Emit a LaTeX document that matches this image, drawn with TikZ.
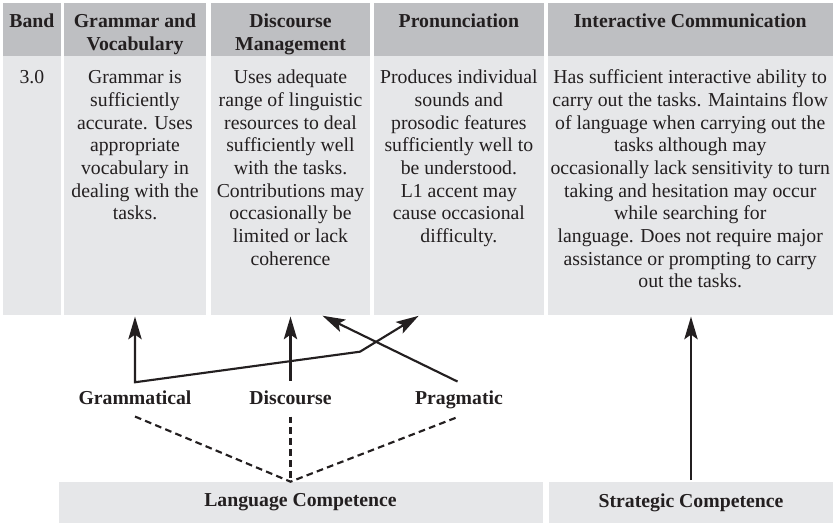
\documentclass[tikz,border=0pt]{standalone}
\usepackage{fontspec}
\setmainfont{Liberation Serif}
\usetikzlibrary{fit,calc,arrows.meta}
\definecolor{headgray}{RGB}{190,191,194}
\definecolor{cellgray}{RGB}{230,231,233}
\definecolor{ink}{RGB}{35,31,32}
\newcommand\diafont{\fontsize{14.8}{17}\selectfont}

\begin{document}
\begin{tikzpicture}[x=0.75pt,y=-0.75pt,>={Stealth[length=17pt,width=10pt,inset=3.5pt]},
  font=\diafont, color=ink, line width=1.6pt,
  head/.style={fill=headgray,inner sep=0,outer sep=0},
  cell/.style={fill=cellgray,inner sep=0,outer sep=0},
  htext/.style={anchor=north,inner sep=0,align=center,font=\diafont\bfseries},
  ctext/.style={anchor=north,inner sep=0,align=center},
  btext/.style={inner sep=0,font=\diafont\bfseries},
  lbl/.style={anchor=base,font=\diafont\bfseries,text height=10.2pt,text depth=3.3pt,inner sep=5.3pt},
  dashline/.style={dash pattern=on 5pt off 3.2pt},
  tip/.style={shorten >=1.2pt,shorten <=1.2pt}]
  \useasboundingbox (0,0) rectangle (833,524);
  % table: header row
  \node[head,fit={(2.7,3)(61,56.5)}](bandh){};
  \node[head,fit={(64,3)(206,56.5)}](gvh){};
  \node[head,fit={(211,3)(370,56.5)}](dmh){};
  \node[head,fit={(374,3)(543.7,56.5)}](prh){};
  \node[head,fit={(547.5,3)(833,56.5)}](ich){};
  % table: body row
  \node[cell,fit={(2.7,56.5)(61,315)}](bandb){};
  \node[cell,fit={(64,56.5)(206,315)}](gvb){};
  \node[cell,fit={(211,56.5)(370,315)}](dmb){};
  \node[cell,fit={(374,56.5)(543.7,315)}](prb){};
  \node[cell,fit={(547.5,56.5)(833,315)}](icb){};
  \node[htext](bandt) at (bandh.center |- 0,10.8){\strut Band};
  \node[htext](gvt) at (gvh.center |- 0,10.8){\strut Grammar and\\Vocabulary};
  \node[htext](dmt) at (dmh.center |- 0,10.8){\strut Discourse\\Management};
  \node[htext](prt) at (prh.center |- 0,10.8){\strut Pronunciation};
  \node[htext](ict) at (ich.center |- 0,10.8){\strut Interactive Communication};
  \node[ctext](bandc) at (bandb.center |- 0,66.8){\strut 3.0};
  \node[ctext](gvc) at (gvb.center |- 0,66.8){\strut Grammar is\\sufficiently\\accurate. Uses\\appropriate\\vocabulary in\\dealing with the\\tasks.};
  \node[ctext](dmc) at (dmb.center |- 0,66.8){\strut Uses adequate\\range of linguistic\\resources to deal\\sufficiently well\\with the tasks.\\Contributions may\\occasionally be\\limited or lack\\coherence};
  \node[ctext](prc) at (prb.center |- 0,66.8){\strut Produces individual\\sounds and\\prosodic features\\sufficiently well to\\be understood.\\L1 accent may\\cause occasional\\difficulty.};
  \node[ctext](icc) at (icb.center |- 0,66.8){\strut Has sufficient interactive ability to\\carry out the tasks. Maintains flow\\of language when carrying out the\\tasks although may\\occasionally lack sensitivity to turn\\taking and hesitation may occur\\while searching for\\language. Does not require major\\assistance or prompting to carry\\out the tasks.};
  % competences
  \node[cell,fit={(58.5,481.7)(542.5,523)}](langc){};
  \node[cell,fit={(549,481.7)(833,523)}](stratc){};
  \node[btext](langt) at (langc.center){Language Competence};
  \node[btext](stratt) at (stratc.center){Strategic Competence};
  \node[lbl](gram) at (135,404){Grammatical};
  \node[lbl](disc) at (290.5,404){Discourse};
  \node[lbl](prag) at (459,404){Pragmatic};
  \coordinate(bend) at (360,351.7);
  \coordinate(prtip) at (420,315);
  \coordinate(dmtip) at (321,315);
  \draw[<->,tip](gram.north |- gvb.south)--(gram.north)--(bend)--(prtip);
  \draw[->,tip](disc.north)--(disc.north |- dmb.south);
  \draw[->,tip](prag.north)--(dmtip);
  \draw[->,tip](stratc.north)--(stratc.north |- icb.south);
  \draw[dashline](gram.south)--(disc.south |- langc.north)--(prag.south);
  \draw[dashline](disc.south)--(disc.south |- langc.north);
\end{tikzpicture}
\end{document}
